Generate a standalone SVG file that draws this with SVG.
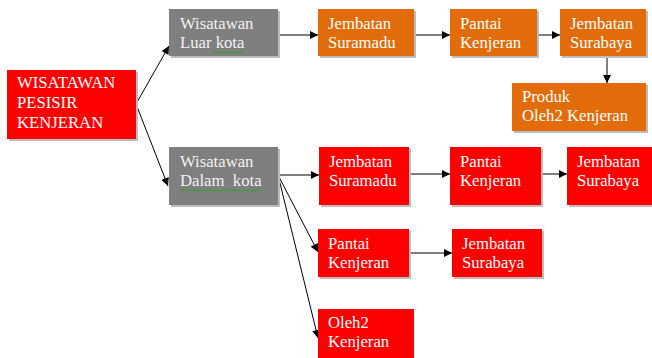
<svg xmlns="http://www.w3.org/2000/svg" width="652" height="358" viewBox="0 0 652 358">
<defs>
<marker id="ah" viewBox="0 0 10 10" refX="10" refY="5" markerWidth="9" markerHeight="8" markerUnits="userSpaceOnUse" orient="auto">
<path d="M0,0 L10,5 L0,10 Z" fill="#000"/>
</marker>
<pattern id="wave" width="4" height="3" patternUnits="userSpaceOnUse">
<path d="M0,2.5 L1,0.5 L2,2.5 L3,0.5 L4,2.5" fill="none" stroke="#3d9a3d" stroke-width="0.8"/>
</pattern>
</defs>
<style>
.sh{fill:#bdbdbd;}
.red{fill:#ff0000;}
.org{fill:#e36c0a;}
.gry{fill:#7f7f7f;}
text{font-family:"Liberation Serif","Times New Roman",serif;font-size:16.7px;fill:#ffffff;}
.gt{fill:#f2f2f2;}
.c{stroke:#000;stroke-width:1;fill:none;marker-end:url(#ah);}
</style>
<rect width="652" height="358" fill="#ffffff"/>
<g id="connectors">
<line class="c" x1="136" y1="104" x2="169" y2="46"/>
<line class="c" x1="136" y1="104" x2="168" y2="186"/>
<line class="c" x1="278" y1="35" x2="318" y2="35"/>
<line class="c" x1="414" y1="35" x2="450" y2="35"/>
<line class="c" x1="537" y1="35" x2="560" y2="35"/>
<line class="c" x1="607" y1="56" x2="607" y2="83"/>
<line class="c" x1="278" y1="175" x2="319" y2="175"/>
<line class="c" x1="409" y1="174" x2="450" y2="174"/>
<line class="c" x1="541" y1="174" x2="567" y2="174"/>
<line class="c" x1="278" y1="175" x2="318" y2="252"/>
<line class="c" x1="278" y1="175" x2="318" y2="338"/>
<line class="c" x1="409" y1="253" x2="452" y2="253"/>
</g>
<g id="n-main">
<rect class="sh" x="9" y="72" width="129" height="69"/>
<rect class="red" x="7" y="70" width="129" height="69"/>
<text x="17" y="88">WISATAWAN</text>
<text x="17" y="108">PESISIR</text>
<text x="17" y="128">KENJERAN</text>
</g>
<g id="n-luar">
<rect class="sh" x="171" y="11" width="109" height="47"/>
<rect class="gry" x="169" y="9" width="109" height="47"/>
<text class="gt" x="180" y="29">Wisatawan</text>
<text class="gt" x="180" y="48">Luar kota</text>
<rect x="212" y="50.5" width="32" height="3" fill="url(#wave)"/>
</g>
<g id="n-dalam">
<rect class="sh" x="171" y="149" width="109" height="58"/>
<rect class="gry" x="169" y="147" width="109" height="58"/>
<text class="gt" x="180" y="167">Wisatawan</text>
<text class="gt" x="180" y="186" xml:space="preserve">Dalam  kota</text>
<rect x="180" y="188.5" width="82" height="3" fill="url(#wave)"/>
</g>
<g id="n-o-suramadu">
<rect class="sh" x="320" y="11" width="96" height="47"/>
<rect class="org" x="318" y="9" width="96" height="47"/>
<text x="328" y="29">Jembatan</text>
<text x="328" y="48">Suramadu</text>
</g>
<g id="n-o-kenjeran">
<rect class="sh" x="452" y="11" width="87" height="47"/>
<rect class="org" x="450" y="9" width="87" height="47"/>
<text x="460" y="29">Pantai</text>
<text x="460" y="48">Kenjeran</text>
</g>
<g id="n-o-surabaya">
<rect class="sh" x="562" y="11" width="86" height="47"/>
<rect class="org" x="560" y="9" width="86" height="47"/>
<text x="570" y="29">Jembatan</text>
<text x="570" y="48">Surabaya</text>
</g>
<g id="n-o-produk">
<rect class="sh" x="514" y="85" width="134" height="48"/>
<rect class="org" x="512" y="83" width="134" height="48"/>
<text x="522" y="102">Produk</text>
<text x="522" y="121">Oleh2 Kenjeran</text>
</g>
<g id="n-r-suramadu">
<rect class="sh" x="321" y="149" width="90" height="58"/>
<rect class="red" x="319" y="147" width="90" height="58"/>
<text x="329" y="167">Jembatan</text>
<text x="329" y="186">Suramadu</text>
</g>
<g id="n-r-kenjeran">
<rect class="sh" x="452" y="149" width="91" height="58"/>
<rect class="red" x="450" y="147" width="91" height="58"/>
<text x="460" y="167">Pantai</text>
<text x="460" y="186">Kenjeran</text>
</g>
<g id="n-r-surabaya">
<rect class="sh" x="569" y="149" width="84" height="58"/>
<rect class="red" x="567" y="147" width="85" height="58"/>
<text x="577" y="167">Jembatan</text>
<text x="577" y="186">Surabaya</text>
</g>
<g id="n-r-kenjeran2">
<rect class="sh" x="320" y="231" width="91" height="48"/>
<rect class="red" x="318" y="229" width="91" height="48"/>
<text x="328" y="249">Pantai</text>
<text x="328" y="268">Kenjeran</text>
</g>
<g id="n-r-surabaya2">
<rect class="sh" x="454" y="231" width="90" height="48"/>
<rect class="red" x="452" y="229" width="90" height="48"/>
<text x="462" y="249">Jembatan</text>
<text x="462" y="268">Surabaya</text>
</g>
<g id="n-r-oleh2">
<rect class="red" x="318" y="309" width="96" height="49"/>
<text x="328" y="328">Oleh2</text>
<text x="328" y="347">Kenjeran</text>
</g>
</svg>
